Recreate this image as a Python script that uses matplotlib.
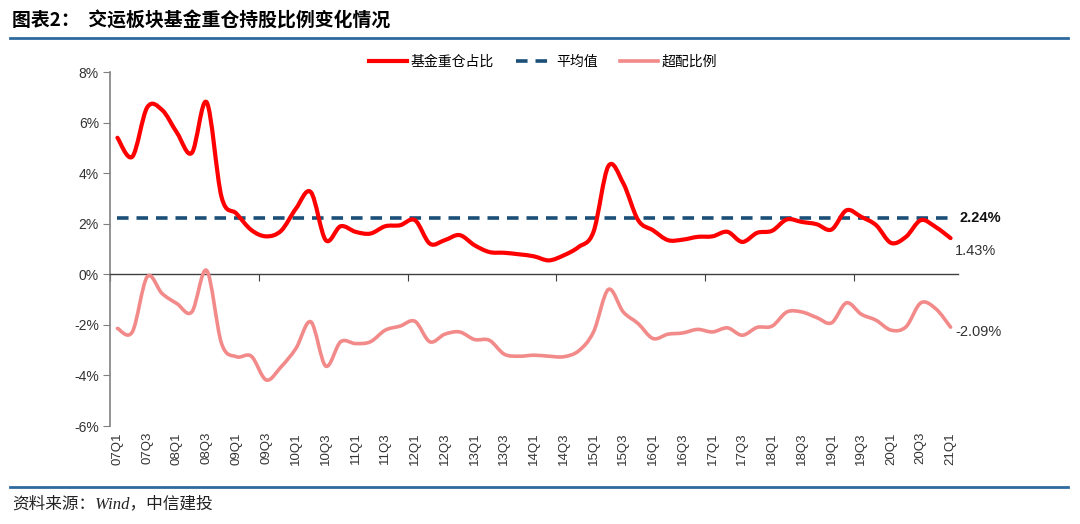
import matplotlib
matplotlib.use("Agg")
import matplotlib.pyplot as plt
from matplotlib.path import Path
from matplotlib.patches import PathPatch
from matplotlib.lines import Line2D
import matplotlib.transforms as mtransforms
import numpy as np

plt.rcParams['font.family'] = ['Liberation Sans', 'Noto Sans CJK SC', 'DejaVu Sans']

# quarters 07Q1 .. 21Q1
quarters = [f"{y:02d}Q{q}" for y in range(7, 22) for q in range(1, 5)][:57]

# 基金重仓占比 (%)
heavy = [5.40, 4.65, 6.60, 6.50, 5.60, 4.80, 6.80, 3.05, 2.40, 1.75,
         1.50, 1.72, 2.60, 3.25, 1.35, 1.90, 1.68, 1.61, 1.90, 1.94,
         2.14, 1.21, 1.35, 1.55, 1.15, 0.88, 0.85, 0.79, 0.71, 0.55,
         0.75, 1.08, 1.68, 4.28, 3.60, 2.14, 1.74, 1.35, 1.37, 1.48,
         1.50, 1.68, 1.28, 1.64, 1.72, 2.17, 2.07, 1.98, 1.77, 2.53,
         2.27, 1.94, 1.24, 1.48, 2.14, 1.87, 1.43]

# 超配比例 (%)
over = [-2.14, -2.28, -0.10, -0.76, -1.16, -1.49, 0.15, -2.74, -3.26, -3.24,
        -4.18, -3.66, -2.93, -1.88, -3.63, -2.67, -2.74, -2.67, -2.21, -2.05,
        -1.86, -2.67, -2.37, -2.28, -2.58, -2.61, -3.16, -3.24, -3.20, -3.24,
        -3.26, -3.03, -2.28, -0.60, -1.49, -1.95, -2.54, -2.37, -2.32, -2.18,
        -2.28, -2.12, -2.41, -2.10, -2.05, -1.49, -1.49, -1.71, -1.92, -1.13,
        -1.58, -1.82, -2.21, -2.08, -1.13, -1.36, -2.09]

avg_value = 2.24

RED = '#FF0000'
PINK = '#F28A8A'
NAVY = '#1B4F78'
RULE = '#2E6A9E'


def smooth_path(xs, ys):
    # Excel-like smoothed line as cubic bezier segments through the points
    pts = np.column_stack([xs, ys])
    verts = [pts[0]]
    codes = [Path.MOVETO]
    n = len(pts)
    for i in range(n - 1):
        p0 = pts[i - 1] if i > 0 else pts[i]
        p1 = pts[i]
        p2 = pts[i + 1]
        p3 = pts[i + 2] if i + 2 < n else pts[i + 1]
        c1 = p1 + (p2 - p0) / 6.0
        c2 = p2 - (p3 - p1) / 6.0
        verts += [c1, c2, p2]
        codes += [Path.CURVE4] * 3
    return Path(verts, codes)


fig = plt.figure(figsize=(10.8, 5.24), dpi=100)
ax = fig.add_axes([110 / 1080, 1 - 426 / 524, 848 / 1080, 354 / 524])

x = np.arange(len(quarters))

ax.add_patch(PathPatch(smooth_path(x, over), fill=False, edgecolor=PINK,
                       lw=2.6, capstyle='round', joinstyle='round', zorder=3))
ax.add_patch(PathPatch(smooth_path(x, heavy), fill=False, edgecolor=RED,
                       lw=3.0, capstyle='round', joinstyle='round', zorder=4))
ax.plot(x, [avg_value] * len(x), color=NAVY, lw=2.6, dashes=(3.2, 2.2), zorder=2)

ax.set_xlim(-0.5, len(quarters) - 0.5)
ax.set_ylim(-6, 8)
ax.set_yticks(range(-6, 9, 2))
ax.set_yticklabels([f"{v}%" for v in range(-6, 9, 2)], fontsize=10, color='#333333')
ax.tick_params(axis='y', direction='out', length=5, color='#808080', pad=3)

ax.spines['top'].set_visible(False)
ax.spines['right'].set_visible(False)
ax.spines['left'].set_color('#808080')
ax.spines['left'].set_linewidth(1.2)
ax.spines['bottom'].set_position(('data', 0))
ax.spines['bottom'].set_color('#404040')
ax.spines['bottom'].set_linewidth(1.0)

ax.set_xticks(np.arange(-0.5, len(quarters), 10))
ax.tick_params(axis='x', direction='out', length=5, color='#404040', labelbottom=False)

# category labels along the bottom
trans = mtransforms.blended_transform_factory(ax.transData, ax.transAxes)
for i in range(0, len(quarters), 2):
    ax.text(i, -0.017, quarters[i], transform=trans, rotation=90, ha='center',
            va='top', fontsize=9.5, color='#333333')

# end labels
ax.text(56.6, avg_value, f"{avg_value:.2f}%", fontsize=10.5, fontweight='bold',
        color='#111111', va='center', ha='left')
ax.text(56.3, heavy[-1] - 0.5, f"{heavy[-1]:.2f}%", fontsize=10.5,
        color='#333333', va='center', ha='left')
ax.text(56.3, over[-1] - 0.2, f"{over[-1]:.2f}%", fontsize=10.5,
        color='#333333', va='center', ha='left')

handles = [Line2D([], [], color=RED, lw=3.0),
           Line2D([], [], color=NAVY, lw=2.6, dashes=(3.2, 2.2)),
           Line2D([], [], color=PINK, lw=2.6)]
fig.legend(handles, ['基金重仓占比', '平均值', '超配比例'], loc='center',
           bbox_to_anchor=(543 / 1080, 1 - 62 / 524), ncol=3, frameon=False,
           handlelength=2.7, handletextpad=0.25, columnspacing=1.6,
           prop={'family': ['Noto Sans CJK SC'], 'size': 10})

# title and rules
fig.text(12 / 1080, 1 - 21 / 524, '图表2：  交运板块基金重仓持股比例变化情况',
         fontsize=13.6, fontweight='bold', va='center', ha='left',
         family=['Noto Sans CJK SC'])
fig.add_artist(Line2D([10 / 1080, 1068 / 1080], [1 - 38 / 524] * 2, color=RULE, lw=2.0))
fig.add_artist(Line2D([10 / 1080, 1068 / 1080], [1 - 487 / 524] * 2, color=RULE, lw=2.0))
fig.text(12 / 1080, 1 - 504 / 524, '资料来源：Wind，中信建投', fontsize=12,
         style='italic', va='center', ha='left', color='#222222',
         family=['Liberation Serif', 'Noto Sans CJK SC'])

fig.savefig('out.png', dpi=100)
